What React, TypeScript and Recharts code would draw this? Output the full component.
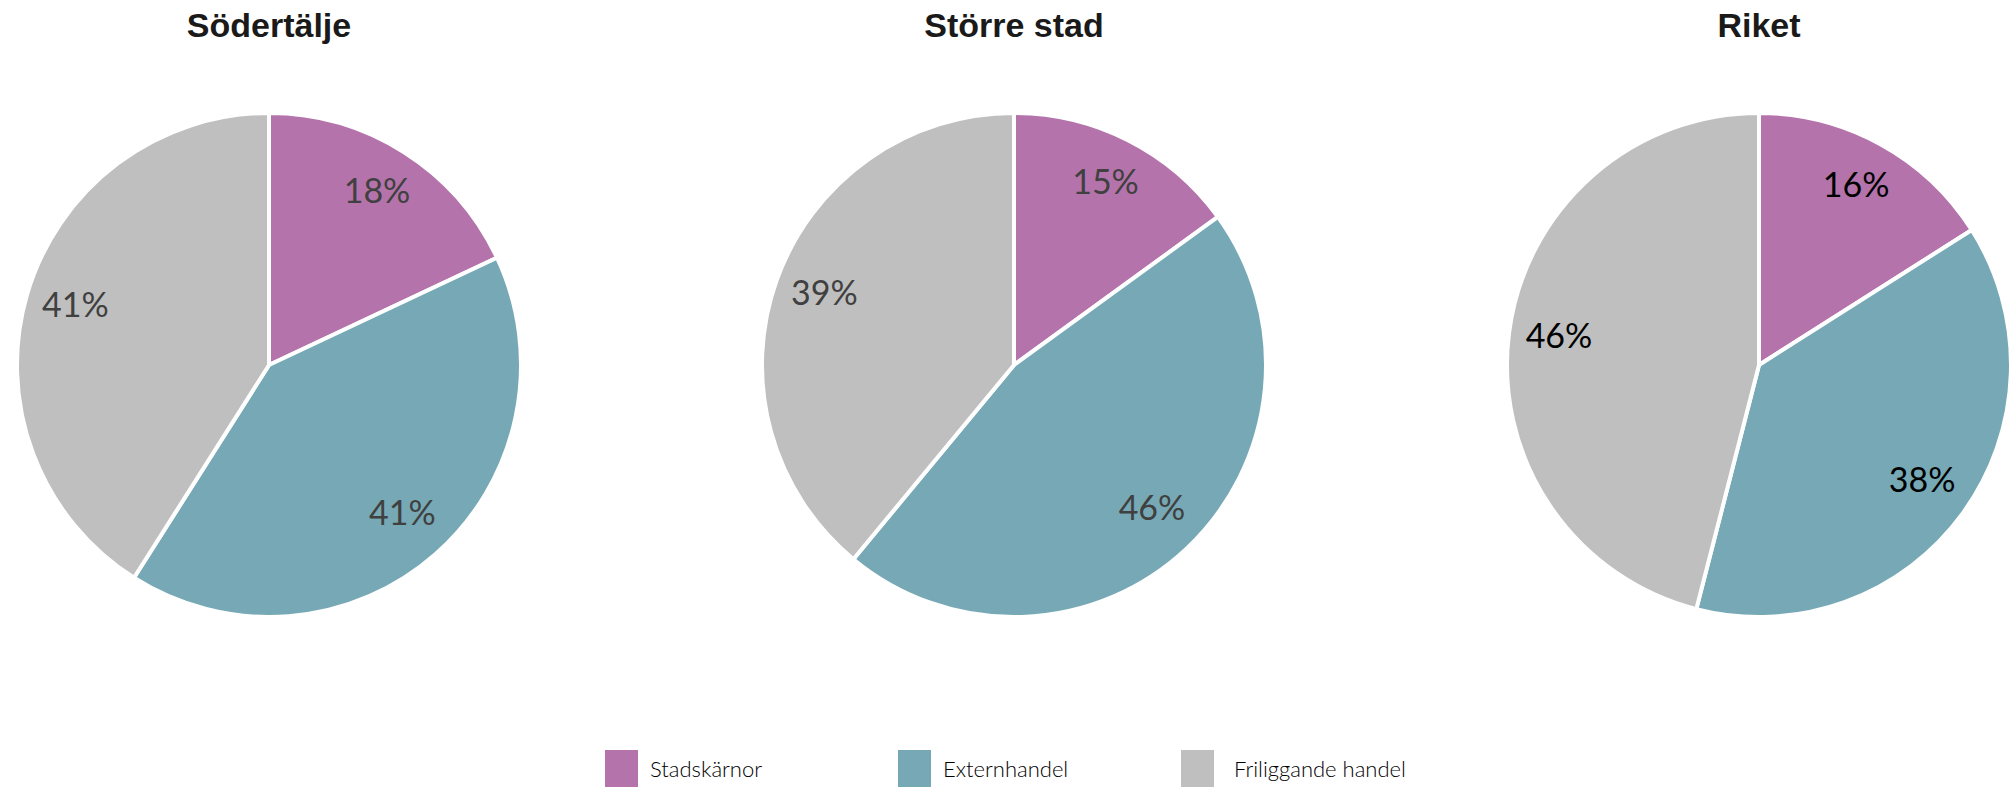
import { PieChart, Pie, Cell, Legend } from "recharts"

const categories = ["Stadskärnor", "Externhandel", "Friliggande handel"]
const titles = ["Södertälje", "Större stad", "Riket"]

const sodertalje = [18, 41, 41]
const storreStad = [15, 46, 39]
const riket = [16, 38, 46]

const COLORS = ["#B474AB", "#76A9B5", "#BFBFBF"]

const W = 2011
const H = 788
const R = 252
const CY = 365
const CENTERS = [269, 1014, 1759]
const LABEL_COLORS = ["#404040", "#404040", "#000000"]
const LEGEND_X = [605, 898, 1181]

const RAD = Math.PI / 180

const toRows = (vals: number[]) => categories.map((name, i) => ({ name, value: vals[i] }))
const series = [sodertalje, storreStad, riket].map(toRows)

const makeLabel = (color: string) => (props: any) => {
  const { cx, cy, midAngle, outerRadius, value } = props
  const r = outerRadius * 0.8
  const x = cx + r * Math.cos(-midAngle * RAD)
  const y = cy + r * Math.sin(-midAngle * RAD) - 5
  return (
    <text
      x={x}
      y={y}
      fill={color}
      textAnchor="middle"
      dominantBaseline="central"
      fontFamily="Lato, 'Open Sans', sans-serif"
      fontSize={34}
    >
      {value}%
    </text>
  )
}

const LegendContent = () => (
  <div style={{ position: "relative", width: W, height: 40 }}>
    {categories.map((name, i) => (
      <div
        key={name}
        style={{
          position: "absolute",
          left: LEGEND_X[i],
          top: 0,
          display: "flex",
          alignItems: "center",
          height: 37,
        }}
      >
        <div style={{ width: 33, height: 37, background: COLORS[i] }} />
        <span
          style={{
            marginLeft: i === 2 ? 20 : 12,
            fontFamily: "Lato, sans-serif",
            fontWeight: 300,
            fontSize: 22,
            color: "#000",
          }}
        >
          {name}
        </span>
      </div>
    ))}
  </div>
)

const App = () => {
  return (
    <div style={{ position: "absolute", left: 0, top: 0, width: W, height: H, background: "#fff" }}>
      {titles.map((t, i) => (
        <div
          key={t}
          style={{
            position: "absolute",
            left: CENTERS[i] - 200,
            width: 400,
            top: 6,
            textAlign: "center",
            fontFamily: "'Liberation Sans', Arial, sans-serif",
            fontWeight: 700,
            fontSize: 34,
            color: "#1a1a1a",
          }}
        >
          {t}
        </div>
      ))}
      <PieChart
        width={W}
        height={H}
        margin={{ top: 0, right: 0, bottom: 0, left: 0 }}
        style={{ position: "absolute", left: 0, top: 0 }}
      >
        {series.map((rows, k) => (
          <Pie
            key={k}
            data={rows}
            dataKey="value"
            nameKey="name"
            cx={CENTERS[k]}
            cy={CY}
            outerRadius={R}
            startAngle={90}
            endAngle={-270}
            stroke="#fff"
            strokeWidth={4}
            labelLine={false}
            label={makeLabel(LABEL_COLORS[k])}
            isAnimationActive={false}
          >
            {rows.map((_, i) => (
              <Cell key={i} fill={COLORS[i]} />
            ))}
          </Pie>
        ))}
        <Legend
          content={<LegendContent />}
          wrapperStyle={{ position: "absolute", left: 0, top: 750, width: W }}
        />
      </PieChart>
    </div>
  )
}

export default App
